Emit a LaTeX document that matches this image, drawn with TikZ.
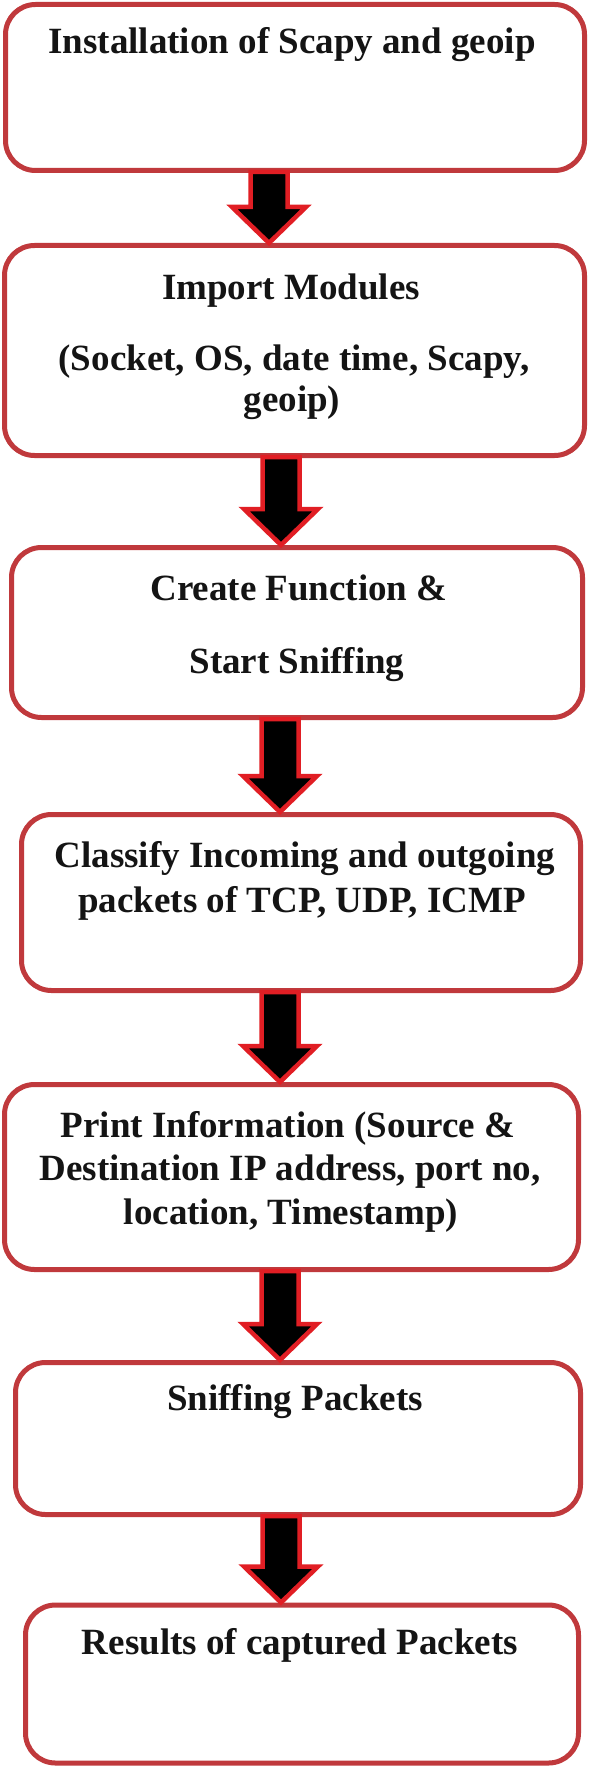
\documentclass[tikz,border=0pt]{standalone}
\usepackage{fontspec}
\setmainfont{Liberation Serif}
\usetikzlibrary{calc}
\definecolor{boxred}{RGB}{192,57,60}
\definecolor{arrred}{RGB}{225,30,36}
\definecolor{txtblack}{RGB}{20,20,20}
\tikzset{
  stepbox/.style={draw=boxred, line width=5pt, rounded corners=30pt, fill=white, inner sep=0pt},
  txt/.style={font=\bfseries\fontsize{37}{43}\selectfont, text=txtblack, inner sep=0pt, anchor=base},
  barrow/.style={draw=arrred, fill=black, line width=4.5pt, line join=miter}
}
\newcommand\blockarr[3]{%
  \draw[barrow] let \p1=(#1.south), \p2=(#2.north) in
    (#3pt-18.5pt,\y1+1pt) -- (#3pt+18.5pt,\y1+1pt) -- (#3pt+18.5pt,\y2+36pt)
    -- (#3pt+37pt,\y2+36pt) -- (#3pt,\y2) -- (#3pt-37pt,\y2+36pt)
    -- (#3pt-18.5pt,\y2+36pt) -- cycle;}
\begin{document}
\begin{tikzpicture}[x=1pt,y=-1pt]
\useasboundingbox (0,0) rectangle (590,1768);
% boxes
\node[stepbox, minimum width=579pt, minimum height=166pt] (b1) at (295,87.5) {};
\node[stepbox, minimum width=580pt, minimum height=210pt] (b2) at (294.5,350.5) {};
\node[stepbox, minimum width=571pt, minimum height=170pt] (b3) at (297,632.5) {};
\node[stepbox, minimum width=559pt, minimum height=176pt] (b4) at (301,902.5) {};
\node[stepbox, minimum width=574pt, minimum height=185pt] (b5) at (291.5,1177) {};
\node[stepbox, minimum width=565pt, minimum height=152pt] (b6) at (298,1438.5) {};
\node[stepbox, minimum width=553pt, minimum height=158pt] (b7) at (302,1684) {};
% texts
\node[txt] (t1) at (292,54) {Installation of Scapy and geoip};
\node[txt] (t2a) at (291,300) {Import Modules};
\node[txt] (t2b) at (294,370) {(Socket, OS, date time, Scapy,};
\node[txt] (t2c) at (292,411) {geoip)};
\node[txt] (t3a) at (299,600) {Create Function \&};
\node[txt] (t3b) at (297,673) {Start Sniffing};
\node[txt] (t4a) at (305,867) {Classify Incoming and outgoing};
\node[txt] (t4b) at (302,912) {packets of TCP, UDP, ICMP};
\node[txt] (t5a) at (288,1137) {Print Information (Source \&};
\node[txt] (t5b) at (290,1180) {Destination IP address, port no,};
\node[txt] (t5c) at (291,1224) {location, Timestamp)};
\node[txt] (t6) at (295,1410) {Sniffing Packets};
\node[txt] (t7) at (300,1654) {Results of captured Packets};
% block arrows
\blockarr{b1}{b2}{269}
\blockarr{b2}{b3}{281}
\blockarr{b3}{b4}{280}
\blockarr{b4}{b5}{280}
\blockarr{b5}{b6}{280}
\blockarr{b6}{b7}{281}
\end{tikzpicture}
\end{document}
